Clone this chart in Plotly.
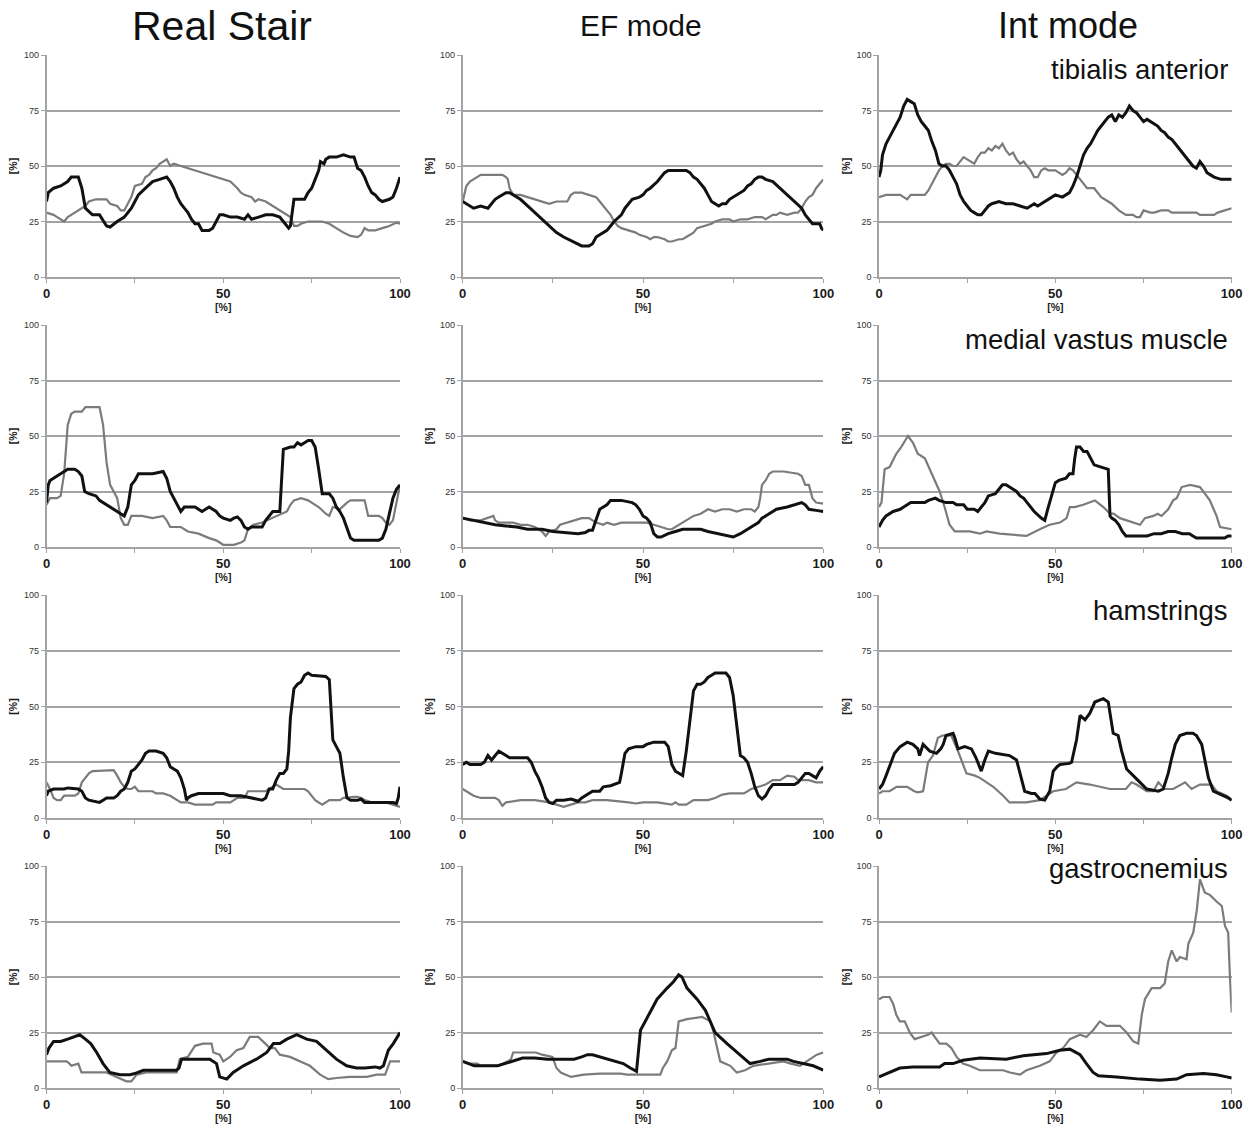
import plotly.graph_objects as go

# ---------------------------------------------------------------------------
# EMG activation over the movement cycle (both axes in %).
# Each curve is a list of (cycle %, activation %) breakpoints.
# "K" = black trace, "G" = grey trace.
# ---------------------------------------------------------------------------
CONDITIONS = ["Real Stair", "EF mode", "Int mode"]
MUSCLES = ["tibialis anterior", "medial vastus muscle", "hamstrings", "gastrocnemius"]

TA_REAL_K = [(0,34),(0.5,38),(2,40),(4,41),(6,43),(7,45),(9,45),(10,40),(11,31),(13,28),(15,28),(17,23),(18,22.5),
             (20,25),(22,27),(24,31),(25,34),(26,37),(28,40),(30,43),(32,44),(34,45),(35,43),(36,40),(37,36),(38,33),
             (39,31),(40,29),(41,26),(42,24),(43,24),(44,21),(46,21),(47,22),(48,25),(49,28),(50,28),(52,27),(54,27),
             (56,26),(57,28),(58,26),(60,27),(62,28),(64,28),(66,27),(67,25),(68.5,22),(69,23),(69.5,30),(70,35),
             (72,35),(73,35),(74,38),(75,40),(76,44),(77,48),(77.5,52),(78.5,51),(79,53),(80,54),(82,54),(84,55),
             (86,54),(87,54),(88,49),(89,48),(90,45),(91,41),(92,38),(93,37),(94,35),(95,34),(97,35),(98,36),(99,40),(100,45)]
TA_REAL_G = [(0,29),(2,28),(3,27),(5,25),(6,27),(7,28),(9,30),(10,31),(11,32),(12,34),(14,35),(17,35),(18,33),(20,32),
             (21,30),(22,30),(23,33),(24,36),(25,41),(27,42),(28,45),(29,46),(30,48),(31,49),(32,51),(34,53),(35,50),
             (36,51),(38,50),(40,49),(42,48),(44,47),(46,46),(48,45),(50,44),(52,43),(54,40),(55,38),(56,37),(58,36),
             (59,34),(60,35),(62,34),(64,32),(66,30),(68,28),(69,27),(70,23),(71,23),(72,24),(74,25),(76,25),(78,25),
             (80,24),(82,22),(84,20),(86,18.5),(88,18),(89,19),(90,22),(91,21),(93,21),(95,22),(97,23),(99,24.5),(100,24)]

TA_EF_K = [(0,34),(1,33),(2,32),(3,31),(5,32),(7,31),(8,33),(9,35),(10,36),(11,37),(12,38),(13,38),(14,37),(16,35),
           (18,32),(20,29),(22,26),(24,23),(26,20),(28,18),(30,16.5),(32,15),(33,14),(35,14),(36,15),(37,18),(38,19),
           (40,21),(41,23),(42,25),(44,28),(45,31),(46,33),(47,35),(49,36),(50,37),(51,39),(52,40),(54,43),(55,45),
           (56,47),(57,48),(59,48),(61,48),(62,48),(63,47),(64,45),(65,44),(66,42),(67,40),(68,37),(69,34),(70,33),
           (71,32),(72,33),(73,33),(74,35),(76,37),(78,39),(79,41),(80,42),(81,44),(82,45),(83,45),(84,44),(86,43),
           (88,40),(90,37),(92,34),(94,31),(95,28),(96,26),(97,24),(99,24),(99.5,22),(100,21)]
TA_EF_G = [(0,34),(0.5,38),(1,41),(2,43),(4,45),(5,46),(7,46),(9,46),(11,46),(12,45),(12.5,44),(13,40),(14,37),(15,37),
           (16,37),(18,36),(20,35),(22,34),(24,33),(26,34),(28,34),(29,34),(30,37),(31,38),(33,38),(35,37),(37,36),
           (38,34),(39,32),(40,30),(41,28),(42,25),(43,23),(44,22),(46,21),(48,20),(49,19),(51,18),(52,17),(53,18),
           (54,18),(56,17),(57,16),(58,16),(60,17),(61,17),(62,18),(63,19),(64,20),(65,22),(67,23),(69,24),(70,25),
           (72,26),(74,26),(75,25),(77,26),(79,26),(81,27),(83,27),(84,26),(86,28),(87,28),(88,29),(90,28),(92,29),
           (93,29),(94,31),(95,34),(96,36),(97,37),(98,40),(99,42),(100,44)]

TA_INT_K = [(0,45),(0.5,48),(1,55),(2,60),(3,63),(4,66),(5,69),(6,72),(7,77),(8,80),(9,79),(10,78),(11,73),(12,70),
            (13,68),(14,66),(15,61),(16,57),(17,51),(18,50),(19,50),(20,48),(21,45),(22,42),(23,37),(24,34),(25,32),
            (26,30),(27,29),(28,28),(29,28),(30,30),(31,32),(32,33),(34,34),(36,33),(38,33),(40,32),(42,31),(43,32),
            (44,33),(45,32),(46,33),(47,34),(48,35),(50,37),(52,36),(54,38),(55,41),(56,45),(57,50),(58,55),(59,58),
            (60,60),(61,63),(62,66),(63,68),(64,70),(65,72),(66,73),(67,70),(68,73),(69,72),(70,74),(71,77),(72,75),
            (73,74),(74,72),(75,70),(76,71),(77,70),(78,69),(79,68),(80,66),(81,65),(82,63),(83,62),(84,60),(85,58),
            (86,56),(87,54),(88,52),(89,50),(90,49),(91,52),(92,50),(93,47),(94,46),(95,45),(97,44),(98,44),(100,44)]
TA_INT_G = [(0,36),(2,37),(4,37),(6,37),(7,36),(8,35),(9,37),(11,37),(13,37),(14,39),(15,42),(16,45),(17,48),(18,50),
            (19,51),(20,51),(21,50),(22,50),(23,52),(24,54),(25,53),(26,52),(27,51),(28,54),(29,56),(30,56),(31,58),
            (32,57),(33,59),(34,58),(35,60),(36,57),(37,55),(38,56),(39,53),(40,51),(41,52),(42,50),(43,48),(44,45),
            (45,45),(46,48),(47,49),(48,48),(50,48),(51,47),(52,46),(53,47),(54,49),(55,48),(56,46),(57,44),(58,42),
            (59,40),(61,40),(62,38),(63,36),(65,34),(66,33),(68,30),(70,28),(72,28),(73,27),(74,27),(75,30),(77,29),
            (78,29),(80,30),(82,30),(83,29),(86,29),(88,29),(90,29),(91,28),(93,28),(95,28),(96,29),(98,30),(100,31)]

VM_REAL_K = [(0,20),(0.5,28),(1,30),(2,31),(3,32),(4,33),(5,34),(6,35),(8,35),(9,34),(10,32),(10.8,25),(12,24),(14,23),
             (15,21),(16,20),(17,19),(19,17),(20,16),(21,15),(22,14),(23,18),(24,28),(25,30),(26,33),(30,33),(33,34),
             (34,31),(35,25),(36,22),(37,19),(38,16),(39,18),(42,18),(43,17),(44,16),(46,18),(47,17),(48,16),(49,14),
             (50,13),(52,12),(53,13),(54,13.5),(55,12),(56,9),(57,8),(58,9),(61,9),(62,12),(63,14),(64,16),(66,16),
             (66.5,30),(67,44),(69,45),(70,45),(71,47),(72,46),(73,47),(74,48),(75,48),(76,45),(77,35),(78,24),(80,24),
             (81,22),(82,18),(83,16),(84,13),(85,8),(86,4),(87,3),(94,3),(95,4),(96,8),(97,15),(98,22),(99,26),(100,28)]
VM_REAL_G = [(0,19),(1,22),(3,22),(4,23),(5,33),(6,55),(7,60),(8,61),(10,61),(11,63),(15,63),(16,55),(17,38),(18,28),
             (19,25),(20,22),(21,13),(22,10),(23,10),(24,14),(27,14),(30,13),(33,14),(34,12),(35,9),(38,9),(40,7),
             (43,6),(46,4),(48,3),(50,1),(53,1),(55,2),(56,3),(57,8),(58.5,10),(61,11),(64,13),(67,15),(68,16),(69,19),
             (70,21),(72,22),(74,21),(76,19),(77,18),(79,15),(80,14),(81,18),(83,17),(85,20),(86,21),(90,21),(91,14),
             (94,14),(95,13),(96,11),(97,10),(98,12),(99,20),(100,28)]

VM_EF_K = [(0,13),(3,12),(6,11),(9,10),(12,9.5),(15,9),(18,8),(22,8),(25,7),(28,6.5),(32,6),(34,6.5),(35,7.5),(36,7.5),
           (37,12),(38,17),(39,18),(40,19),(41,21),(44,21),(47,20),(48,19),(49,17),(50,14),(51,13),(52,11),(53,6),
           (54,4.5),(55,4.5),(57,6),(59,7),(61,8),(64,8),(66,8),(68,7),(71,6),(73,5),(75,4.5),(77,6),(79,8),(81,10),
           (82,11),(83,13),(85,15),(87,17),(90,18),(92,19),(94,20),(95,19),(96,17),(98,16.5),(100,16)]
VM_EF_G = [(0,13),(2,12),(5,12),(7,13),(8.5,14),(9,12),(10,11),(14,11),(16,10),(18,10),(20,9),(22,7),(23,5),(24,7),
           (26,8),(27,10),(29,11),(31,12),(33,13),(35,13),(36,12),(37,11),(39,10),(40,11),(42,10),(44,11),(49,11),
           (51,11),(53,10),(55,9),(57,8),(58,8),(59,9),(61,11),(63,13),(64,14),(66,15),(68,17),(70,16),(72,17),(74,17),
           (76,16),(78,17),(80,17),(81,16),(82,18),(82.5,22),(83,28),(84,30),(85,33),(86,34),(89,34),(93,33),(94,32),
           (95,28),(96,28),(97,22),(98,20),(100,19.5)]

VM_INT_K = [(0,9),(1,12),(2,14),(3,15),(4,16),(6,17),(7,18),(8,19),(9,20),(13,20),(14,21),(16,22),(17,21),(19,20),
            (21,20),(22,19),(24,19),(25,17),(27,17),(28,16),(29,18),(30,20),(31,23),(33,24),(34,26),(35,28),(36,28),
            (37,27),(39,25),(40,23),(41,22),(42,20),(43,18),(44,16),(46,13),(47,12),(48,18),(49,24),(50,29),(51,30),
            (53,31),(54,33),(55,33),(55.5,40),(56,45),(57,45),(58,43),(59,43),(60,40),(61,37),(63,36),(64,35.5),
            (65,35),(65.5,14),(66,13),(67,12),(68,10),(69,7),(70,5),(74,5),(76,5),(78,6),(80,6),(82,7),(84,7),(86,6),
            (88,6),(89,5),(90,4),(95,4),(98,4),(99,5),(100,5)]
VM_INT_G = [(0,18),(0.7,20),(1.6,35),(3,36),(4.9,42),(6.3,45),(7.8,49),(8.2,50),(9.6,47),(11,42),(13,40),(14.4,35),
            (15.8,30),(17.2,25),(18.6,18),(20,10),(21.5,7),(25.7,7),(28.6,6),(30.5,7),(34.2,6),(40,5),(41.8,5),
            (45.6,8),(48.4,10),(51.3,11),(53.2,13),(54.1,18),(55.5,18),(57.9,19),(61.2,21),(62,20),(63.6,18),
            (65.5,15),(66.5,15),(68.3,13),(72.1,11),(74,10),(75.4,13),(77.8,14),(79,15),(80.1,14),(82,17),(83.4,21),
            (84.4,22),(85.8,27),(88.2,28),(91,27),(92.4,24),(93.8,21),(95.7,14),(96.7,9),(100,8)]

HS_REAL_K = [(0,10),(0.5,12),(2,13),(5,13),(6,13.5),(9,13),(10,12),(11,9),(12,8),(14,7.5),(15,7),(16,8),(17,9),(19,9),
             (20,10),(21,12),(22,13),(23,16),(24,21),(25,22),(26,24),(27,26),(28,29),(29,30),(31,30),(33,29),(34,27),
             (35,23),(36,22),(37,21),(38,18),(39,13),(39.6,8),(40,9),(41,10),(43,11),(50,11),(52,10),(55,10),(58,9),
             (61,8),(62,9),(63,13),(64,13),(65,17),(66,20),(67,20),(68,22),(68.5,30),(69,45),(70,58),(71,60),(72,61),
             (73,64),(74,65),(75,64),(79,63.5),(80,62),(80.5,50),(81,35),(82,32),(83,29),(84,18),(85,9),(86,8),(88,8),
             (89,8.5),(90,7),(93,7),(96,7),(98,7),(99,6.5),(99.5,9),(100,14)]
HS_REAL_G = [(0,16),(1,13),(2,9),(3,8),(4,8),(5,10),(8,10),(9,11),(10,16),(11,18),(12,20),(13,21),(19,21.5),(20,19),
             (21,16),(22,14),(23,13),(24,13),(25,14),(26,12),(28,12),(30,12),(31,11),(33,11),(35,10),(37,8),(38,7),
             (40,7),(42,6),(47,6),(48,7),(52,7),(53,8),(54,9),(56,9),(57,12),(62,12),(63,13),(65,15),(66,14),(67,13),
             (70,13),(73,13),(74,12),(75,10),(76,8),(78,6),(79,7),(80,8),(83,8),(84,9),(87,9.5),(88,9.5),(89,9),(90,8),
             (92,7),(96,7),(98,6),(100,5)]

HS_EF_K = [(0,24),(1,25),(2,24),(5,24),(6,25),(7,28),(8,26),(9,28),(10,30),(11,29),(12,28),(13,27),(18,27),(19,25),
           (20,21),(21,18),(22,14),(23,9),(24,7),(25,6.5),(26,8),(28,8),(30,8.5),(31,8),(32,7.5),(33,9),(34,10),
           (36,12),(38,12),(39,14),(41,14.5),(42,15),(43.5,16),(44,20),(45,29),(46,31),(48,32),(50,32),(51,33),
           (53,34),(56,34),(57,32),(58,24),(59,21),(60,20),(61,19),(62,30),(63,45),(64,57),(65,60),(66,60),(67,61),
           (68,63),(69,64),(70,65),(73,65),(74,63),(75,55),(76,40),(77,28),(78,27),(79,25),(80,20),(81,14),(82,10),
           (83,8.5),(84,10),(85,13),(86,15),(90,15),(92,15),(93,16),(94,18),(95,20),(96,20),(97,19),(98,18),(99,21),(100,23)]
HS_EF_G = [(0,13),(1,12),(2,11),(3,10),(5,9),(9,9),(10,8),(11,5.5),(12,7),(14,7.5),(16,8),(20,8),(22,7.5),(24,7),
           (26,6),(28,5),(30,6),(32,7),(34,7),(36,8),(40,8),(44,7.5),(46,7),(48,6.5),(50,7),(54,7),(56,6.5),(58,6),
           (59,7),(60,6),(62,6),(64,8),(68,8),(70,9),(72,10.5),(74,11),(76,11),(78,11),(80,13),(82,14),(84,15),(86,17),
           (88,17),(89,18),(90,19),(92,18.5),(93,17),(95,17),(96,17),(98,16),(100,16)]

HS_INT_K = [(0,13),(1,15),(2,19),(3,23),(4.4,29),(6,32),(7,33),(8,34),(9.6,33),(11,31),(11.5,28),(12.5,33),(14.4,30),
            (16.3,29),(17.5,31),(18.2,33),(19,37),(21,38),(21.5,36),(22.4,31),(24.3,32),(26.2,31),(27.5,27),(29,21),
            (30,26),(31,30),(33,29),(35,28.5),(37,28),(39,26),(40,20),(41.3,12),(43.2,11),(44.2,11),(45.6,8.5),(47,8),
            (48.4,12),(49.4,21),(50.5,23),(51.3,24),(54,24.5),(54.6,25),(56,35),(57,46),(58.4,44),(59.8,47),(61.2,52),
            (62.5,53),(63.6,53.5),(65,52),(65.7,45),(66.4,38),(67.8,37),(68.8,30),(70.2,22),(72,19),(74,16),(75.9,13),
            (79.2,12),(80.6,13),(82,20),(83,27),(84,33),(85.3,37),(87.2,38),(89,38),(90,37),(91.5,33),(92.5,25),
            (93.4,18),(94.8,12),(96,11),(97.6,10),(99,9),(100,8)]
HS_INT_G = [(0,11),(1,12),(3,12),(4,13),(5,14),(8,14),(9,13),(10,12),(11,11.5),(12.5,12),(13.9,25),(15.3,28),(16.7,36),
            (18,37),(20.5,37),(22.4,30),(24.8,20),(27.2,19),(28.6,18),(30.5,16),(32.4,14),(35.2,10),(37,7),(41.8,7),
            (45.6,8),(47.5,10),(49.4,12),(53,13),(56,16),(59.8,15),(62.6,14),(65.5,13),(70,13),(71.6,16),(73,15),
            (75.9,12),(77.8,12),(79.2,16),(81,13),(83.4,13),(86.8,16),(88.6,13),(91,15),(94.3,15),(95.7,12),(98.6,10),(100,8)]

GA_REAL_K = [(0,15),(0.7,18),(2,21),(4,21),(6,22),(8,23),(9.4,24),(11,22),(12.5,20),(14.2,16),(16,11),(17.9,7),(19,6.5),
             (20.8,6),(23.6,6),(25,6.5),(27.4,8),(30,8),(36.8,8),(37.5,9),(38.2,13),(42,13),(46.2,13),(48.1,11),(49,5),
             (51,4),(52.8,7),(55.7,10),(59.4,13),(62.3,16),(64.2,20),(66,20),(68,22),(70.8,24),(73.6,22),(76.4,21),
             (78.5,18),(80.2,16),(82,13),(84.9,10),(87.7,9),(90,9),(93,9.5),(94.3,9),(95.3,10),(96.7,17),(98.1,20),(100,25)]
GA_REAL_G = [(0,12),(5.7,12),(6.5,11),(7,10),(9,11),(9.5,9),(9.9,7),(13,7),(17,7),(19.8,5),(22.6,3),(24,3),(25.5,6),
             (28.3,7),(36.8,7),(37.7,13),(40,14),(42,19),(44.3,20),(46.7,20),(47.2,16),(49,15),(50,12),(51.9,14),
             (53.8,17),(55.7,18),(57.5,23),(59.9,23),(61.8,20),(63.2,18),(64.6,18),(66,15),(68.9,14),(71.7,12),
             (74.5,10),(77.4,6),(79.7,4),(82,4.5),(85.8,5),(90.6,5),(93.4,6),(95.8,6),(97.2,12),(100,12)]

GA_EF_K = [(0,12),(1.5,11),(3.2,10),(9.7,10),(11.5,11),(13.4,12),(16.6,13.5),(20,13.5),(23.5,13),(27,13),(30.9,13),
           (33,14),(34.6,15),(36,15),(38.2,14),(40.5,13),(42.9,12),(44.5,11),(46.5,9),(48.2,7.5),(49.3,26),(51.2,32),
           (53.9,40),(56.7,45),(58.5,48),(59.9,51),(60.8,50),(62.2,45),(65,40),(67.3,35),(68.7,30),(70,25),(73.3,20),
           (77,15),(79.7,11),(82.5,12),(85,13),(88,13),(90,13),(91.7,12),(94.5,11),(97.2,10),(100,8)]
GA_EF_G = [(0,12),(2,11),(4,11),(5,10),(10,10),(11.5,11),(12.5,12),(13.4,13),(14,16),(20.3,16),(22,15),(24.9,14),(26,9),
           (27.2,7),(30,5),(33.6,6),(38,6.5),(43.8,6.5),(45.6,6),(54.8,6),(55.5,9),(56.7,12),(58,17),(59,18),(59.9,30),
           (62.2,31),(64,31.5),(66.4,32),(68.7,30),(69.6,25),(71.4,12),(74.2,10),(76,7),(78.3,8),(80.6,10),(85.3,11),
           (88.9,12),(91,11),(93.5,10),(95.4,12),(98.2,15),(100,16)]

GA_INT_K = [(0,5),(3,7),(5.9,9),(9.6,9.5),(17.2,9.5),(18.6,11),(21,11),(23.8,12.5),(28.6,13.5),(36.1,13),(40.9,14.5),
            (47.5,15.5),(51.3,17),(54.1,17.5),(57,15),(58.8,11),(60.7,7),(62.2,5.5),(67.4,5),(74,4),(79.7,3.5),
            (84.4,4),(87.2,6),(92,6.5),(95.7,6),(98.6,5),(100,4.5)]
GA_INT_G = [(0,40),(1.1,41),(3,41),(4,38),(4.9,33),(5.9,30),(7.3,30),(8.7,25),(10.1,22),(12,23),(13.9,24),(14.9,25),
            (16.3,22),(17.2,20),(19.1,20),(20.5,18),(22,14),(23.8,11),(25.7,10),(28.6,8),(35.2,8),(37.1,7),(40,6),
            (41.8,8),(45.6,10),(48.4,12),(50.3,16),(52.2,18),(54.1,22),(57,24),(58.8,23),(60.7,26),(62.6,30),(64.5,28),
            (68.3,28),(70.2,25),(72.1,21),(73.5,20),(74.5,33),(75.4,40),(77.3,45),(79.7,45),(81,47),(82,57),(83,62),
            (84.4,57),(85.3,59),(87.2,58),(87.7,65),(89.1,70),(90.1,80),(91,94),(92.4,88),(93.8,87),(95.7,84),(97.2,82),
            (98.1,73),(99,70),(99.5,50),(100,34)]

PANELS = [
    [(TA_REAL_K, TA_REAL_G), (TA_EF_K, TA_EF_G), (TA_INT_K, TA_INT_G)],
    [(VM_REAL_K, VM_REAL_G), (VM_EF_K, VM_EF_G), (VM_INT_K, VM_INT_G)],
    [(HS_REAL_K, HS_REAL_G), (HS_EF_K, HS_EF_G), (HS_INT_K, HS_INT_G)],
    [(GA_REAL_K, GA_REAL_G), (GA_EF_K, GA_EF_G), (GA_INT_K, GA_INT_G)],
]

Y_TICKS = [0, 25, 50, 75, 100]
X_TICKS = [0, 25, 50, 75, 100]
X_TICK_TEXT = ["0", "", "50", "", "100"]

# ---------------------------------------------------------------------------
# Layout geometry (pixels of the 1246 x 1126 page)
# ---------------------------------------------------------------------------
W, H = 1246, 1126
COL_LEFT = [46.5, 462.7, 879.0]
COL_RIGHT = [400.0, 823.3, 1231.7]
ROW_TOP = [55.0, 325.0, 595.0, 866.0]
ROW_BOTTOM = [277.0, 547.0, 818.0, 1088.0]

FONT = "Arial, 'Liberation Sans', Helvetica, sans-serif"
AXIS_GREY = "#a3a3a3"
BLACK = "#111111"
GREY = "#7b7b7b"

fig = go.Figure()
layout = dict(
    width=W, height=H,
    margin=dict(l=0, r=0, t=0, b=0),
    paper_bgcolor="white", plot_bgcolor="white",
    showlegend=False,
    font=dict(family=FONT, color="#222"),
)

annotations = []
n = 0
for r in range(4):
    for c in range(3):
        n += 1
        xa = "xaxis" if n == 1 else f"xaxis{n}"
        ya = "yaxis" if n == 1 else f"yaxis{n}"
        xref = "x" if n == 1 else f"x{n}"
        yref = "y" if n == 1 else f"y{n}"
        layout[xa] = dict(
            domain=[COL_LEFT[c] / W, COL_RIGHT[c] / W],
            anchor=yref, range=[0, 100], fixedrange=True,
            showgrid=False, zeroline=False,
            showline=True, linecolor=AXIS_GREY, linewidth=1.5,
            tickmode="array", tickvals=X_TICKS, ticktext=X_TICK_TEXT,
            ticks="outside", ticklen=4, tickwidth=1.2, tickcolor=AXIS_GREY,
            tickfont=dict(size=13, family=FONT, color="#1a1a1a", weight="bold"),
            title=dict(text="<b>[%]</b>", font=dict(size=10.5, family=FONT, color="#1a1a1a"), standoff=0),
            automargin=False,
        )
        layout[ya] = dict(
            domain=[1 - ROW_BOTTOM[r] / H, 1 - ROW_TOP[r] / H],
            anchor=xref, range=[0, 100], fixedrange=True,
            showgrid=True, gridcolor=AXIS_GREY, gridwidth=1.5,
            zeroline=False,
            showline=True, linecolor=AXIS_GREY, linewidth=1.5,
            tickmode="array", tickvals=Y_TICKS,
            ticks="outside", ticklen=4, tickwidth=1.2, tickcolor=AXIS_GREY,
            tickfont=dict(size=9, family=FONT, color="#333"),
            title=dict(text="<b>[%]</b>", font=dict(size=10.5, family=FONT, color="#1a1a1a"), standoff=4),
            automargin=False,
        )
        black, grey = PANELS[r][c]
        for pts, color, width in ((grey, GREY, 2.2), (black, BLACK, 3.0)):
            fig.add_trace(go.Scatter(
                x=[p[0] for p in pts], y=[p[1] for p in pts],
                mode="lines", line=dict(color=color, width=width),
                xaxis=xref, yaxis=yref, hoverinfo="skip",
            ))

# condition titles above each column
TITLE_X = [222, 641, 1068]
TITLE_SIZE = [41, 30, 36]
for c, name in enumerate(CONDITIONS):
    annotations.append(dict(
        text=name, xref="paper", yref="paper",
        x=TITLE_X[c] / W, y=1 - 26 / H,
        xanchor="center", yanchor="middle", showarrow=False,
        font=dict(size=TITLE_SIZE[c], family=FONT, color="#111"),
    ))

# muscle names in the right-hand column
ROW_LABEL_Y = [70, 339, 610, 868]
for r, name in enumerate(MUSCLES):
    annotations.append(dict(
        text=name, xref="paper", yref="paper",
        x=1230 / W, y=1 - ROW_LABEL_Y[r] / H,
        xanchor="right", yanchor="middle", showarrow=False,
        font=dict(size=27.5, family=FONT, color="#111"),
    ))

layout["annotations"] = annotations
fig.update_layout(**layout)
fig.write_html("out.html")
